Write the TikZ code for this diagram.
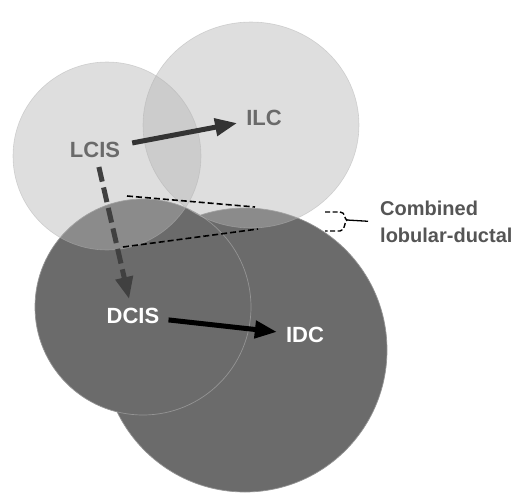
\documentclass[tikz,border=0pt]{standalone}
\usepackage{fontspec}
\setmainfont{Liberation Sans}
\usetikzlibrary{arrows.meta,shapes.geometric}
\definecolor{darkdisc}{HTML}{6B6B6B}
\definecolor{lightdisc}{HTML}{B4B4B4}
\definecolor{labelgray}{HTML}{6A6A6A}
\definecolor{textgray}{HTML}{555555}
\begin{document}
\begin{tikzpicture}[x=1pt,y=-1pt,
  darkdiscstyle/.style={circle,fill=darkdisc,draw=white!58!black,line width=0.7pt,inner sep=0pt},
  lightdiscstyle/.style={ellipse,fill=lightdisc,fill opacity=0.44,draw=white!70!black,draw opacity=0.5,line width=0.6pt,inner sep=0pt},
  lab/.style={font=\fontsize{22}{24}\selectfont\bfseries,inner sep=9pt},
  thickarrow/.style={line width=5pt,-{Triangle[length=22pt,width=17pt]}},
  combline/.style={line width=1.6pt,dash pattern=on 6pt off 3pt}]
\useasboundingbox (0,0) rectangle (523,493);
% discs
\node[darkdiscstyle,minimum size=284pt] (idcdisc) at (245,350) {};
\node[darkdiscstyle,minimum size=216pt] (dcisdisc) at (143,307) {};
\node[lightdiscstyle,minimum width=188pt,minimum height=188pt] (lcisdisc) at (107,156) {};
\node[lightdiscstyle,minimum width=216pt,minimum height=206pt] (ilcdisc) at (251,125) {};
% labels
\node[lab,text=labelgray] (lcis) at (95,150) {LCIS};
\node[lab,text=labelgray] (ilc) at (264,118) {ILC};
\node[lab,text=white] (dcis) at (133,316) {DCIS};
\node[lab,text=white] (idc) at (305,335) {IDC};
% arrows
\draw[thickarrow,color=black!80,shorten <=3pt] (lcis) -- (ilc);
\draw[thickarrow,color=black!75,dash pattern=on 15pt off 6pt] (lcis) -- (dcis);
\draw[thickarrow,color=black] (dcis) -- (idc);
% combined lobular-ductal
\coordinate (ua) at (127,196);
\coordinate (ub) at (255,207);
\coordinate (la) at (123,247);
\coordinate (lb) at (258,229);
\draw[combline] (ua) -- (ub);
\draw[combline] (la) -- (lb);
\coordinate (bt) at (325,212);
\coordinate (bb) at (325,231);
\coordinate (tip) at (347,220);
\node[anchor=west,inner sep=0pt,align=left,text=textgray,
  font=\fontsize{20}{27}\selectfont\bfseries] (combo) at (380,222) {Combined\\lobular-ductal};
\draw[combline,line width=1.4pt,dash pattern=on 5pt off 2.5pt] (bt) -- ++(15,0) .. controls (346,212) and (344,220) .. (tip)
  .. controls (344,220) and (346,231) .. (340,231) -- (bb);
\draw[line width=1.3pt,shorten >=12pt] (tip) -- (combo.west);
\end{tikzpicture}
\end{document}
